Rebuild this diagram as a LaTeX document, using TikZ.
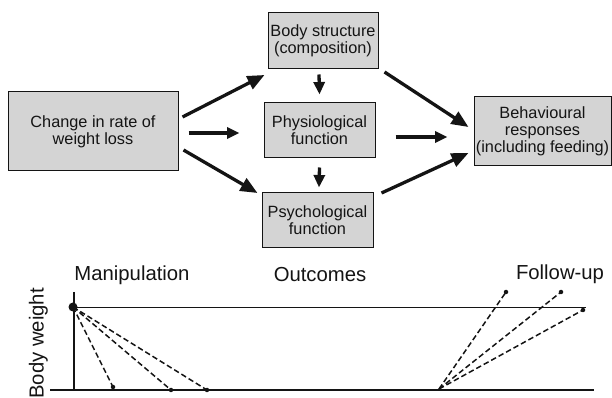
\documentclass[tikz,border=0pt]{standalone}
\usepackage{fontspec}
\setmainfont{Liberation Sans}
\usepackage{tikz}
\usetikzlibrary{arrows.meta}
\usepackage{xcolor}

\definecolor{boxgray}{HTML}{D4D4D4}
\definecolor{ink}{HTML}{141414}

\tikzset{
    box/.style={draw=ink, line width=1pt, fill=boxgray, text=ink, align=center,
        inner sep=0pt, font=\fontsize{16.3}{17}\selectfont},
    bigarrow/.style={draw=ink, line width=3.3pt, -{Triangle[length=17pt,width=14pt]}},
    smallarrow/.style={draw=ink, line width=3.3pt, -{Triangle[length=12.5pt,width=11pt]}},
    chartlabel/.style={text=ink, font=\fontsize{20.3}{24}\selectfont},
    trend/.style={draw=ink, line width=1.5pt, dash pattern=on 5.5pt off 3pt},
}

\begin{document}
\begin{tikzpicture}[x=1pt, y=1pt]
            \useasboundingbox (0,0) rectangle (612,398);
            \node[box, minimum width=170pt, minimum height=79pt] (change) at (93,266.5) {Change in rate of\\weight loss};
            \node[box, minimum width=110pt, minimum height=56pt] (body) at (323,357) {Body structure\\(composition)};
            \node[box, minimum width=111pt, minimum height=55pt] (physio) at (319.5,267.5) {Physiological\\function};
            \node[box, minimum width=111pt, minimum height=55pt] (psycho) at (317.5,177.5) {Psychological\\function};
            \node[box, minimum width=137pt, minimum height=69pt] (behav) at (542.5,266.5) {Behavioural\\responses\\(including feeding)};

            \draw[bigarrow] ([shift={(4,14.5)}]change.east) -- ([shift={(-3,-34)}]body.west);
            \draw[smallarrow] ([shift={(10,-1.5)}]change.east) -- ([shift={(-24,-2.5)}]physio.west);
            \draw[bigarrow] ([shift={(5,-18.5)}]change.east) -- ([shift={(-4,27.5)}]psycho.west);
            \draw[smallarrow] ([shift={(-4,-5)}]body.south) -- ([shift={(0,8)}]physio.north);
            \draw[smallarrow] ([shift={(0,-9)}]physio.south) -- ([shift={(1.5,5)}]psycho.north);
            \draw[bigarrow] ([shift={(6,-31)}]body.east) -- ([shift={(-5,4.5)}]behav.west);
            \draw[smallarrow] ([shift={(20,-6.5)}]physio.east) -- ([shift={(-26,-5.5)}]behav.west);
            \draw[bigarrow] ([shift={(8,27.5)}]psycho.east) -- ([shift={(-5,-21.5)}]behav.west);

            \node[chartlabel] (manip) at (132,123) {Manipulation};
            \node[chartlabel] (outc) at (320,123) {Outcomes};
            \node[chartlabel] (follow) at (560,124) {Follow-up};
            \node[chartlabel, rotate=90, anchor=base] (weight) at (43.5,54.5) {Body weight};

            \coordinate (start) at (73,91);
            \coordinate (low) at (439,9);
            \draw[ink, line width=1.4pt] (74,106) -- (74,8);
            \draw[ink, line width=1.4pt] (50,8) -- (594,8);
            \draw[ink, line width=0.9pt] (74,91) -- (586,91);
            \foreach \px/\py in {113/11, 171/8, 207/8}
                \draw[trend] (start) -- (\px,\py) node[circle, fill=ink, inner sep=0pt, minimum size=4.5pt] {};
            \foreach \px/\py in {506/106, 561/106, 583/88}
                \draw[trend] (low) -- (\px,\py) node[circle, fill=ink, inner sep=0pt, minimum size=4.5pt] {};
            \fill[ink] (start) circle (4.5pt);
        \end{tikzpicture}
\end{document}
